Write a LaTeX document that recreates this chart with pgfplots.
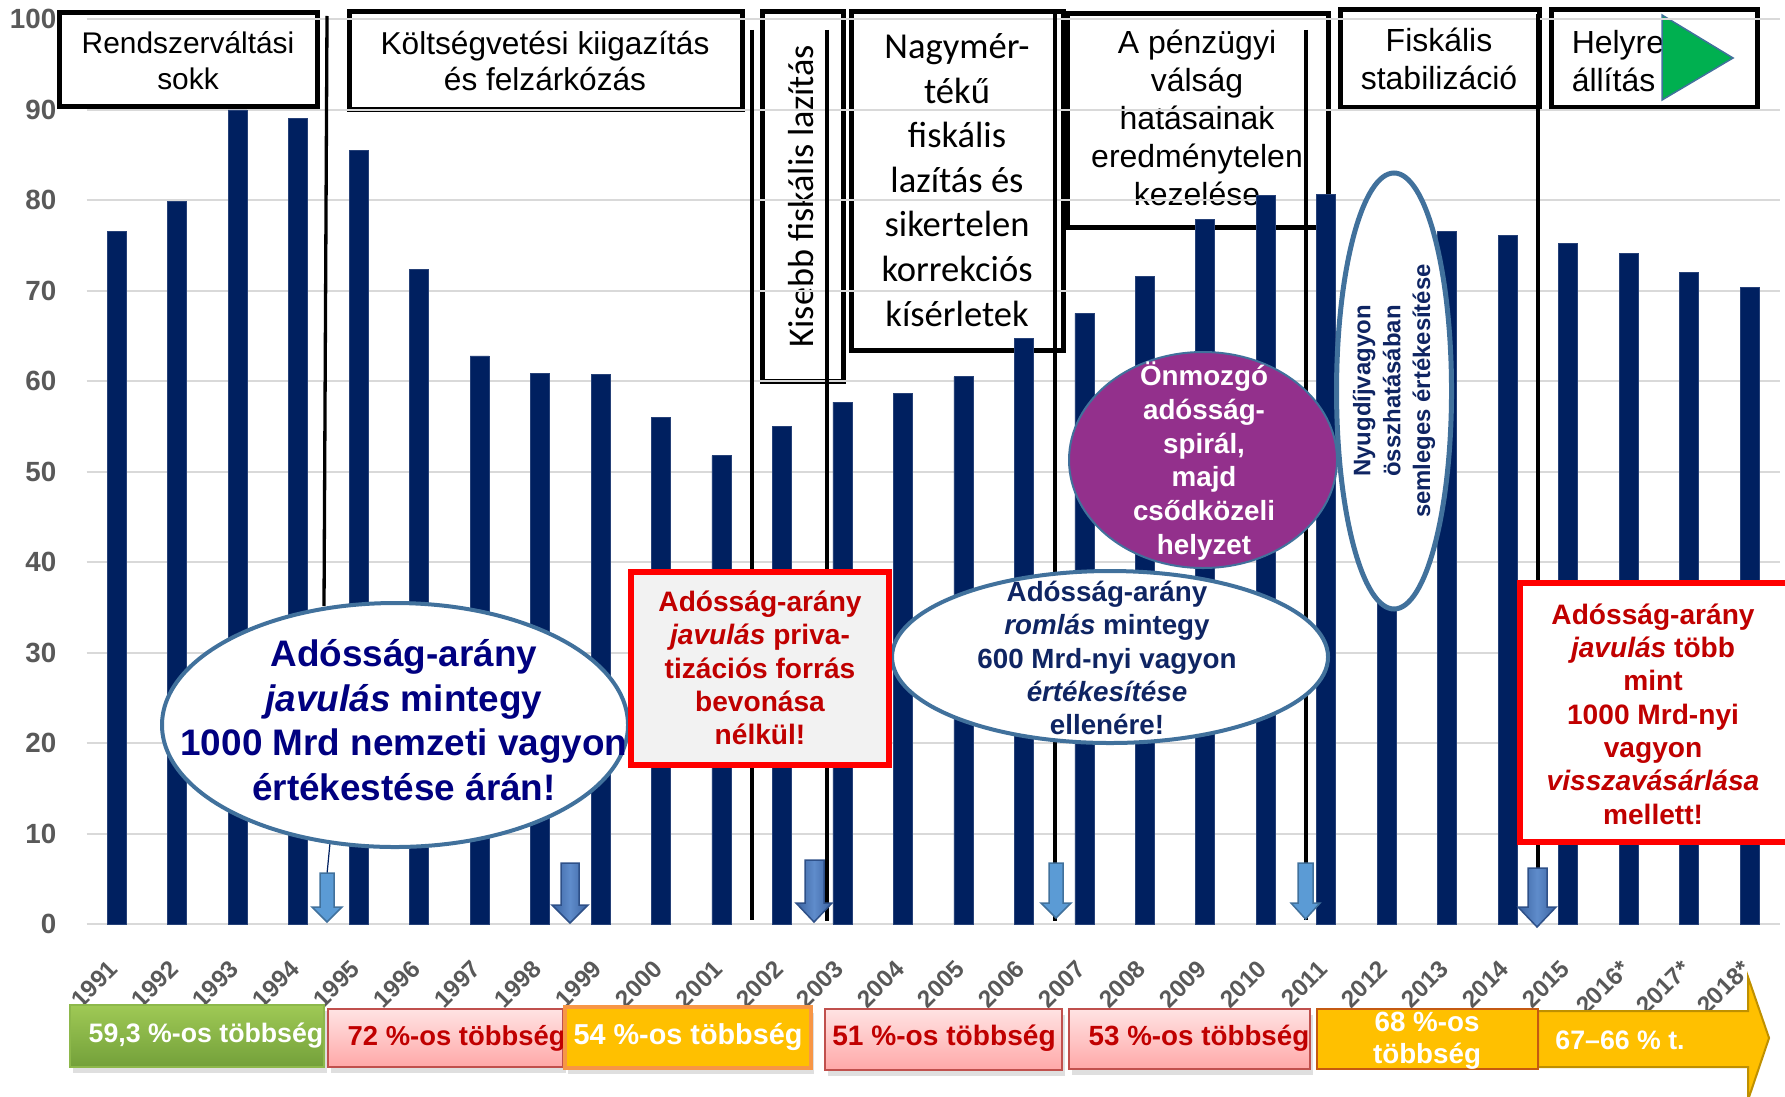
\documentclass[border=0pt]{standalone}
\usepackage{pgfplots}
\pgfplotsset{compat=1.18}
\usepackage{fontspec}
\setmainfont{Liberation Sans}
\newfontfamily\calib{Carlito}
\usetikzlibrary{shadows}
\definecolor{barnavy}{HTML}{002060}
\definecolor{gridgray}{HTML}{D9D9D9}
\definecolor{labgray}{HTML}{595959}
\definecolor{steel}{HTML}{41719C}
\definecolor{ellnavy}{HTML}{000080}
\definecolor{darknavy}{HTML}{0F2563}
\definecolor{purp}{HTML}{93308C}
\definecolor{darkred}{HTML}{C00000}
\definecolor{lightblue}{HTML}{5B9BD5}
\definecolor{darkblueA}{HTML}{3A62A0}
\definecolor{darkblueB}{HTML}{5F8CCB}
\definecolor{darkblueE}{HTML}{2E5088}
\definecolor{gold}{HTML}{FFC000}
\definecolor{goldedge}{HTML}{BF9000}
\definecolor{orangeedge}{HTML}{F79646}
\definecolor{brownedge}{HTML}{C55A11}
\definecolor{pinktop}{HTML}{FFE3E3}
\definecolor{pinkbot}{HTML}{FFA8A8}
\definecolor{pinkedge}{HTML}{C0504D}
\definecolor{greentop}{HTML}{9FC955}
\definecolor{greenbot}{HTML}{73A03A}
\definecolor{greenedge}{HTML}{8DB84B}
\definecolor{tri}{HTML}{00B050}
\definecolor{midgray}{HTML}{F2F2F2}
\newcommand{\fs}[2]{\fontsize{#1}{#2}\selectfont}
\newcommand{\rl}[1]{\rotatebox{45}{#1}}
\begin{document}
\begin{tikzpicture}
\useasboundingbox (0,0) rectangle (178.5mm,109.6mm);
% ---- top period boxes (transparent, behind bars) ----
\begin{scope}[x=0.1mm,y=-0.1mm,shift={(0,109.6mm)}]
\draw[line width=0.5mm] (59,13) rectangle (317,107);
\draw[line width=0.5mm] (349,12) rectangle (742,110);
\draw[line width=0.5mm] (762,12) rectangle (843,381);
\draw[line width=0.5mm] (851,12) rectangle (1063,350);
\draw[line width=0.5mm] (1067,14) rectangle (1328,227);
\draw[line width=0.5mm] (1340,10) rectangle (1539,108);
\draw[line width=0.5mm] (1551,10) rectangle (1757,108);
\node[align=center, font=\fs{8.5}{10.2}] at (188,61) {Rendszerváltási\\sokk};
\node[align=center, font=\fs{9}{10.4}] at (545,61) {Költségvetési kiigazítás\\és felzárkózás};
\node[rotate=90, font=\calib\fs{10.3}{12}] at (801,196) {Kisebb fiskális lazítás};
\node[align=center, font=\calib\fs{10.4}{12.7}] at (957,180) {Nagymér-\\tékű\\fiskális\\lazítás és\\sikertelen\\korrekciós\\kísérletek};
\node[align=center, font=\fs{9.1}{10.8}] at (1197,118) {A pénzügyi\\válság\\hatásainak\\eredménytelen\\kezelése};
\node[align=center, font=\fs{9.1}{10.7}] at (1439,59) {Fiskális\\stabilizáció};
\node[align=left, anchor=west, inner sep=0pt, font=\fs{9.1}{10.7}] at (1571,61) {Helyre\\állítás};
\draw[fill=tri, draw=steel, line width=0.15mm] (1662,15) -- (1733,58) -- (1662,100) -- cycle;
\end{scope}
% ---- chart ----
\begin{axis}[
  at={(8.65mm,17.18mm)}, anchor=south west,
  scale only axis, width=169.33mm, height=90.48mm,
  xmin=-0.5, xmax=27.5, ymin=0, ymax=100,
  ybar, bar width=1.9mm,
  axis line style={draw=none},
  major tick style={draw=none},
  ymajorgrids, grid style={draw=gridgray, line width=0.55pt},
  ytick={0,10,...,100},
  xtick={0,1,...,27},
  xticklabels={\rl{1991},\rl{1992},\rl{1993},\rl{1994},\rl{1995},\rl{1996},\rl{1997},\rl{1998},\rl{1999},\rl{2000},\rl{2001},\rl{2002},\rl{2003},\rl{2004},\rl{2005},\rl{2006},\rl{2007},\rl{2008},\rl{2009},\rl{2010},\rl{2011},\rl{2012},\rl{2013},\rl{2014},\rl{2015},\rl{2016*},\rl{2017*},\rl{2018*}},
  /pgf/number format/assume math mode=true,
  yticklabel style={font=\fs{7.9}{9}\bfseries, text=labgray, anchor=east, inner sep=0pt, xshift=-2.95mm},
  xticklabel style={font=\fs{6.9}{8}\bfseries, text=labgray, inner sep=0pt, anchor=north east, xshift=0.35mm, yshift=-1.9mm},
  clip=false,
]
\addplot[fill=barnavy, draw=barnavy!85!white, line width=0.2pt] coordinates {
(0,76.6) (1,79.9) (2,90.0) (3,89.1) (4,85.5) (5,72.4) (6,62.8) (7,60.9)
(8,60.8) (9,56.0) (10,51.8) (11,55.0) (12,57.7) (13,58.7) (14,60.5) (15,64.7)
(16,67.5) (17,71.6) (18,77.9) (19,80.5) (20,80.7) (21,78.3) (22,76.6) (23,76.1)
(24,75.2) (25,74.1) (26,72.0) (27,70.4)};
\end{axis}
% ---- overlays ----
\begin{scope}[x=0.1mm,y=-0.1mm,shift={(0,109.6mm)}]
% vertical separator lines
\draw[line width=0.33mm] (327,16) -- (324,606);
\draw[barnavy, line width=0.12mm] (330,843) -- (327,874);
\draw[line width=0.33mm] (752,30) -- (752,920);
\draw[line width=0.33mm] (827,30) -- (827,921);
\draw[line width=0.33mm] (1055,13) -- (1055,921);
\draw[line width=0.33mm] (1306,30) -- (1306,920);
\draw[line width=0.33mm] (1538,14) -- (1538,868);
% ellipses
\draw[steel, line width=0.4mm, fill=white] (395,725) ellipse [x radius=233, y radius=122];
\node[align=center, text=ellnavy, font=\fs{10.5}{12.7}\bfseries] at (404,720) {Adósság-arány\\\textit{javulás} mintegy\\1000 Mrd nemzeti vagyon\\értékestése árán!};
\draw[purp, line width=0.2mm, fill=purp, draw=steel] (1203,460) ellipse [x radius=134, y radius=108];
\node[align=center, text=white, font=\fs{7.9}{9.6}\bfseries] at (1204,461) {Önmozgó\\adósság-\\spirál,\\majd\\csődközeli\\helyzet};
\draw[steel, line width=0.4mm, fill=white] (1110,657) ellipse [x radius=218, y radius=86];
\node[align=center, text=darknavy, font=\fs{7.9}{9.5}\bfseries] at (1107,658) {Adósság-arány\\\textit{romlás} mintegy\\600 Mrd-nyi vagyon\\\textit{értékesítése}\\ellenére!};
\draw[steel, line width=0.5mm, fill=white] (1394,391) ellipse [x radius=57.5, y radius=218];
\node[rotate=90, align=center, text=darknavy, font=\fs{6.8}{8.5}\bfseries] at (1394,391) {Nyugdíjvagyon\\összhatásában\\semleges értékesítése};
% red boxes
\draw[red, line width=0.6mm, fill=midgray] (631,572) rectangle (889,765);
\node[align=center, text=darkred, font=\fs{8}{9.5}\bfseries] at (760,668) {Adósság-arány\\\textit{javulás} priva-\\tizációs forrás\\bevonása\\nélkül!};
\draw[red, line width=0.6mm, fill=white] (1520,583) rectangle (1800,842);
\node[align=center, text=darkred, font=\fs{8}{9.5}\bfseries] at (1653,714) {Adósság-arány\\\textit{javulás} több\\mint\\1000 Mrd-nyi\\vagyon\\\textit{visszavásárlása}\\mellett!};
% block arrows
\draw[fill=lightblue, draw=steel, line width=0.15mm] (320,873)--(334,873)--(334,907)--(342,907)--(327,922)--(312,907)--(320,907)--cycle;
\draw[left color=darkblueA, right color=darkblueA, middle color=darkblueB, draw=darkblueE, line width=0.15mm] (561,863)--(579,863)--(579,905)--(588,905)--(570,923)--(552,905)--(561,905)--cycle;
\draw[left color=darkblueA, right color=darkblueA, middle color=darkblueB, draw=darkblueE, line width=0.15mm] (805,860)--(824,860)--(824,903)--(832,903)--(814,922)--(796,903)--(805,903)--cycle;
\draw[fill=lightblue, draw=steel, line width=0.15mm] (1049,863)--(1063,863)--(1063,903)--(1071,903)--(1056,918)--(1041,903)--(1049,903)--cycle;
\draw[fill=lightblue, draw=steel, line width=0.15mm] (1298,863)--(1313,863)--(1313,903)--(1320,903)--(1305.5,919)--(1291,903)--(1298,903)--cycle;
\draw[left color=darkblueA, right color=darkblueA, middle color=darkblueB, draw=darkblueE, line width=0.15mm] (1528,868)--(1547,868)--(1547,907)--(1556,907)--(1537,927)--(1518,907)--(1528,907)--cycle;
% bottom majority bars
\draw[top color=greentop, bottom color=greenbot, draw=greenedge, line width=0.15mm, drop shadow={shadow xshift=0.3mm, shadow yshift=-0.6mm, opacity=0.25}] (70,1005) rectangle (324,1067);
\node[text=white, font=\fs{7.6}{9}\bfseries] at (206,1036) {59,3 \%-os többség};
\draw[top color=pinktop, bottom color=pinkbot, draw=pinkedge, line width=0.15mm, drop shadow={shadow xshift=0.3mm, shadow yshift=-0.6mm, opacity=0.25}] (328,1009) rectangle (563,1067);
\node[anchor=west, inner sep=0pt, text=darkred, font=\fs{7.8}{9}\bfseries] at (347,1038) {72 \%-os többség};
\draw[fill=gold, draw=orangeedge, line width=0.4mm, drop shadow={shadow xshift=0.3mm, shadow yshift=-0.6mm, opacity=0.25}] (565,1007) rectangle (811,1068);
\node[text=white, font=\fs{8.2}{9}\bfseries] at (688,1037) {54 \%-os többség};
\draw[top color=pinktop, bottom color=pinkbot, draw=pinkedge, line width=0.15mm, drop shadow={shadow xshift=0.3mm, shadow yshift=-0.6mm, opacity=0.25}] (825,1009) rectangle (1062,1070);
\node[text=darkred, font=\fs{8}{9}\bfseries] at (944,1038) {51 \%-os többség};
\draw[top color=pinktop, bottom color=pinkbot, draw=pinkedge, line width=0.15mm, drop shadow={shadow xshift=0.3mm, shadow yshift=-0.6mm, opacity=0.25}] (1069,1009) rectangle (1310,1069);
\node[text=darkred, font=\fs{7.9}{9}\bfseries] at (1199,1038) {53 \%-os többség};
\draw[fill=gold, draw=goldedge, line width=0.2mm] (1538,1011) -- (1748,1011) -- (1748,977) -- (1769,1038) -- (1748,1100) -- (1748,1067) -- (1538,1067) -- cycle;
\node[text=white, font=\fs{7.6}{9}\bfseries] at (1620,1040) {67–66 \% t.};
\draw[fill=gold, draw=brownedge, line width=0.2mm] (1317,1009) rectangle (1538,1069);
\node[align=center, text=white, font=\fs{7.9}{9.1}\bfseries] at (1427,1041) {68 \%-os\\többség};
\end{scope}
\end{tikzpicture}
\end{document}
